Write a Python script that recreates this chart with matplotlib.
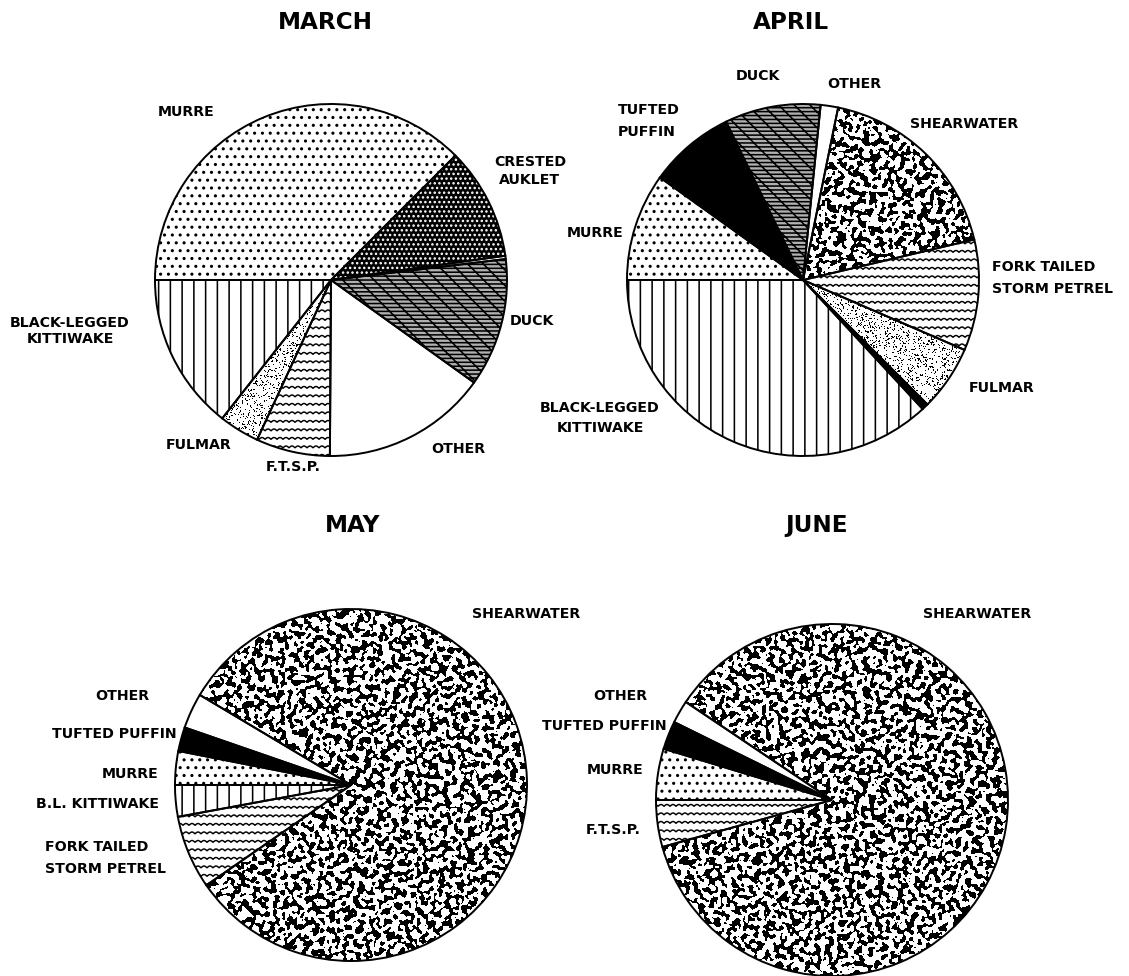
import numpy as np
import matplotlib
matplotlib.use("Agg")
import matplotlib.pyplot as plt

plt.rcParams['font.family'] = ['DejaVu Sans']
plt.rcParams['hatch.linewidth'] = 0.8

# percent of birds per species, slices in drawing order
march_species = ['MURRE', 'CRESTED AUKLET', 'OTHER', 'DUCK', 'OTHER',
                 'F.T.S.P.', 'FULMAR', 'BLACK-LEGGED KITTIWAKE']
march_pct = [37.5, 10.3, 0.3, 11.8, 15.2, 6.8, 3.7, 14.4]

april_species = ['MURRE', 'TUFTED PUFFIN', 'DUCK', 'OTHER', 'SHEARWATER',
                 'FORK TAILED STORM PETREL', 'FULMAR', 'UNIDENTIFIED',
                 'BLACK-LEGGED KITTIWAKE']
april_pct = [9.9, 7.9, 8.8, 1.6, 18.1, 10.2, 6.0, 0.6, 36.9]

may_species = ['B.L. KITTIWAKE', 'FORK TAILED STORM PETREL', 'SHEARWATER',
               'OTHER', 'TUFTED PUFFIN', 'MURRE']
may_pct = [2.9, 6.75, 81.8, 3.25, 2.2, 3.1]

june_species = ['F.T.S.P.', 'SHEARWATER', 'OTHER', 'TUFTED PUFFIN', 'MURRE']
june_pct = [4.3, 86.3, 2.1, 2.6, 4.7]

# layout (pixels of the 1129x976 picture)
W, H, DPI = 1129, 976, 141
R = 176

FILL = {
    'MURRE': ('white', 'black', '...'),
    'CRESTED AUKLET': ('black', 'white', '.....'),
    'DUCK': ('#b0b0b0', 'black', '------\\\\\\'),
    'OTHER': ('white', 'white', None),
    'TUFTED PUFFIN': ('black', 'black', None),
    'UNIDENTIFIED': ('black', 'black', None),
    'BLACK-LEGGED KITTIWAKE': ('white', 'black', '||'),
    'B.L. KITTIWAKE': ('white', 'black', '||'),
    'F.T.S.P.': ('white', 'white', 'waves'),
    'FORK TAILED STORM PETREL': ('white', 'white', 'waves'),
    'FULMAR': ('white', 'white', 'stipple'),
    'SHEARWATER': ('white', 'white', 'mottle'),
}


def hash_noise(n, seed):
    i, j = np.meshgrid(np.arange(n, dtype=np.uint64), np.arange(n, dtype=np.uint64),
                       indexing='ij')
    h = i * np.uint64(374761393) + j * np.uint64(668265263) + np.uint64(seed * 2246822519)
    h = (h ^ (h >> np.uint64(13))) * np.uint64(1274126177)
    h = h ^ (h >> np.uint64(16))
    return (h & np.uint64(0xFFFFFF)).astype(float) / 0xFFFFFF


def blur(a, s):
    f = np.fft.fftfreq(a.shape[0])
    fx, fy = np.meshgrid(f, f, indexing='ij')
    g = np.exp(-2 * (np.pi * s) ** 2 * (fx ** 2 + fy ** 2))
    return np.real(np.fft.ifft2(np.fft.fft2(a) * g))


def texture(kind, seed, n=360):
    a = hash_noise(n, seed)
    if kind == 'mottle':
        band = blur(a, 1.5) - blur(a, 4.5)
        blk = band > np.quantile(band, 0.56)
        fine = blur(a, 0.5)
        blk |= fine > np.quantile(fine, 0.94)
    else:
        fine = blur(a, 0.3)
        blk = fine > np.quantile(fine, 0.85)
    rgba = np.zeros((n, n, 4))
    rgba[..., 3] = blk
    return rgba


fig = plt.figure(figsize=(W / DPI, H / DPI), dpi=DPI)


def add_pie(cx, cy, species, pct, start, ccw, seed):
    half = 1.05 * R
    ax = fig.add_axes([(cx - half) / W, (H - cy - half) / H, 2 * half / W, 2 * half / H])
    wedges, _ = ax.pie(pct, startangle=start, counterclock=ccw, radius=1,
                       wedgeprops=dict(linewidth=0, zorder=1))
    for k, (w, sp) in enumerate(zip(wedges, species)):
        fc, ec, pat = FILL[sp]
        w.set_facecolor(fc)
        w.set_edgecolor(ec)
        if pat in ('mottle', 'stipple'):
            im = ax.imshow(texture(pat, seed + k), extent=(-1, 1, -1, 1),
                           interpolation='nearest', zorder=2)
            im.set_clip_path(w)
        elif pat == 'waves':
            xs = np.linspace(-1.05, 1.05, 2000)
            for y0 in np.arange(-1.05, 1.05, 8.5 / R):
                ys = y0 + (1.8 / R) * np.abs(np.sin(np.pi * xs / (6.0 / R)))
                ln, = ax.plot(xs, ys, color='black', lw=0.75, zorder=2)
                ln.set_clip_path(w)
        elif pat:
            w.set_hatch(pat)
    ax.pie(pct, startangle=start, counterclock=ccw, radius=1,
           wedgeprops=dict(facecolor='none', edgecolor='black', linewidth=1.0, zorder=3))
    ax.set_xlim(-1.05, 1.05)
    ax.set_ylim(-1.05, 1.05)
    ax.set_axis_off()
    return ax


def put(ax, cx, cy, txt, px, py, ha='center', size=7.2, ls=1.2):
    va = 'center' if '\n' in txt else 'center_baseline'
    ax.text((px - cx) / R, (cy - py) / R, txt, ha=ha, va=va, fontsize=size,
            fontweight='bold', linespacing=ls, multialignment=ha)


pies = [
    ('MARCH', 331, 280, march_species, march_pct, 180, False, 11),
    ('APRIL', 803, 280, april_species, april_pct, 180, False, 31),
    ('MAY', 351, 785, may_species, may_pct, 180, True, 51),
    ('JUNE', 832, 800, june_species, june_pct, 180, True, 71),
]

title_pos = {'MARCH': (325, 20), 'APRIL': (791, 20), 'MAY': (353, 523), 'JUNE': (817, 523)}

label_pos = {
    'MARCH': [('MURRE', 186, 110, 'center', 1.2),
              ('CRESTED\nAUKLET', 530, 171, 'center', 1.4),
              ('DUCK', 532, 320, 'center', 1.2),
              ('BLACK-LEGGED\nKITTIWAKE', 70, 331, 'center', 1.15),
              ('FULMAR', 199, 444, 'center', 1.2),
              ('OTHER', 458, 448, 'center', 1.2),
              ('F.T.S.P.', 293, 466, 'center', 1.2)],
    'APRIL': [('DUCK', 758, 75, 'center', 1.2),
              ('OTHER', 854, 82, 'center', 1.2),
              ('TUFTED\nPUFFIN', 618, 121, 'left', 1.64),
              ('SHEARWATER', 964, 123, 'center', 1.2),
              ('MURRE', 595, 232, 'center', 1.2),
              ('FORK TAILED\nSTORM PETREL', 992, 278, 'left', 1.73),
              ('FULMAR', 1002, 387, 'center', 1.2),
              ('BLACK-LEGGED\nKITTIWAKE', 600, 418, 'center', 1.56)],
    'MAY': [('SHEARWATER', 526, 612, 'center', 1.2),
            ('OTHER', 122, 695, 'center', 1.2),
            ('TUFTED PUFFIN', 177, 732, 'right', 1.2),
            ('MURRE', 130, 772, 'center', 1.2),
            ('B.L. KITTIWAKE', 97, 803, 'center', 1.2),
            ('FORK TAILED\nSTORM PETREL', 45, 858, 'left', 1.73)],
    'JUNE': [('SHEARWATER', 977, 612, 'center', 1.2),
             ('OTHER', 620, 694, 'center', 1.2),
             ('TUFTED PUFFIN', 667, 724, 'right', 1.2),
             ('MURRE', 615, 769, 'center', 1.2),
             ('F.T.S.P.', 613, 828, 'center', 1.2)],
}

for name, cx, cy, sp, pc, start, ccw, seed in pies:
    ax = add_pie(cx, cy, sp, pc, start, ccw, seed)
    tx, ty = title_pos[name]
    put(ax, cx, cy, name, tx, ty, size=11.8)
    for txt, px, py, ha, ls in label_pos[name]:
        put(ax, cx, cy, txt, px, py, ha=ha, ls=ls)

fig.savefig('out.png', dpi=DPI, facecolor='white')
